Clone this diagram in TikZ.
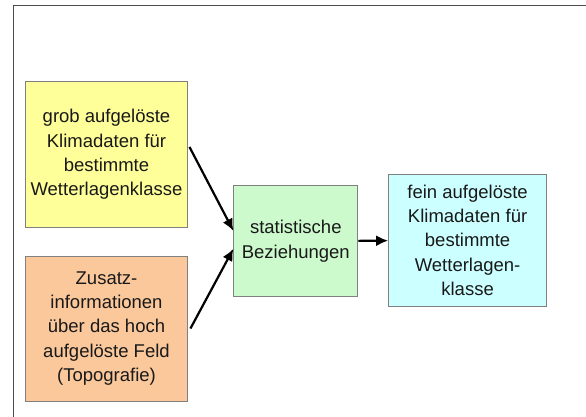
\documentclass[tikz,border=0pt]{standalone}
\usepackage{fontspec}
\setmainfont{Liberation Sans}
\usetikzlibrary{arrows.meta}

\definecolor{gelb}{RGB}{255,255,153}
\definecolor{orange}{RGB}{250,200,155}
\definecolor{gruen}{RGB}{204,250,204}
\definecolor{tuerkis}{RGB}{204,255,255}
\definecolor{rahmen}{RGB}{128,128,128}

\tikzset{
  kasten/.style={draw=rahmen, line width=0.9pt, align=center, inner sep=0pt,
    font=\fontsize{18.5}{24.3}\selectfont, text=black!90},
  pfeil/.style={line width=2.2pt, -{Latex[length=12pt,width=11pt]}}
}

\begin{document}
\begin{tikzpicture}
                        [x=1pt,y=-1pt]
                        \useasboundingbox (0,0) rectangle (586,417);
                        \draw[line width=1.3pt, black!70] (13.5,417) -- (13.5,5.5) -- (586,5.5);
                        \node[kasten, fill=gelb, minimum width=162pt, minimum height=146pt] (grob) at (106.5,154.4) {grob aufgelöste\\Klimadaten für\\bestimmte\\Wetterlagenklasse};
                        \node[kasten, fill=orange, minimum width=162pt, minimum height=145pt] (zusatz) at (106.5,328.5) {Zusatz-\\informationen\\über das hoch\\aufgelöste Feld\\(Topografie)};
                        \node[kasten, fill=gruen, minimum width=124pt, minimum height=111pt] (stat) at (295.8,241.3) {statistische\\Beziehungen};
                        \node[kasten, fill=tuerkis, minimum width=158pt, minimum height=132pt] (fein) at (467.6,240.1) {fein aufgelöste\\Klimadaten für\\bestimmte\\Wetterlagen-\\klasse};
                        \coordinate (aus1) at ([xshift=1.5pt,yshift=7.5pt]grob.east);
                        \coordinate (aus2) at ([xshift=2.5pt]zusatz.east);
                        \coordinate (ein1) at ([yshift=10.5pt]stat.west);
                        \coordinate (ein2) at ([yshift=-7.5pt]stat.west);
                        \foreach \from/\to in {aus1/ein1,aus2/ein2}
                        \draw[pfeil] (\from) -- (\to);
                        \draw[pfeil] (stat) -- (fein);
                    \end{tikzpicture}
\end{document}
